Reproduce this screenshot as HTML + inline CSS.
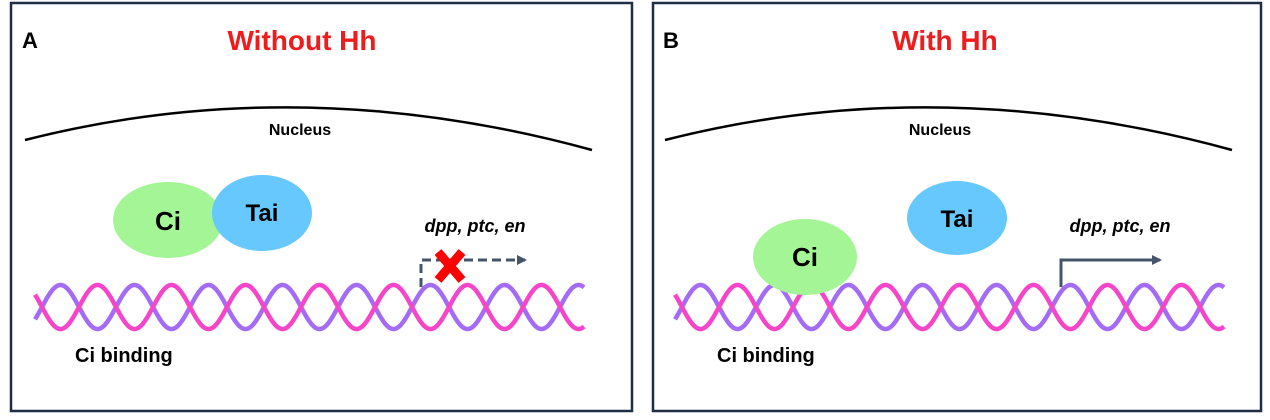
<!DOCTYPE html>
<html><head><style>body{margin:0;background:#fff}</style></head><body>
<svg width="1270" height="415" xmlns="http://www.w3.org/2000/svg" font-family="Liberation Sans, sans-serif">
<defs>
<marker id="ah" markerWidth="10" markerHeight="10" refX="8" refY="5" orient="auto" markerUnits="userSpaceOnUse"><path d="M0,0 L10,5 L0,10 z" fill="#44546a"/></marker>
</defs>
<g id="helix" fill="none" stroke-width="4.5"></g>
<g id="p1">
<rect x="11" y="3" width="621" height="408" fill="none" stroke="#1f2d45" stroke-width="2.5"/>
<text x="22" y="48" font-size="22" font-weight="bold">A</text>
<text x="302" y="50" font-size="28" font-weight="bold" fill="#ee1c1c" text-anchor="middle">Without Hh</text>
<path d="M25,140 Q300,70 592,150" fill="none" stroke="#000" stroke-width="2.5"/>
<text x="300" y="135" font-size="16" font-weight="bold" text-anchor="middle">Nucleus</text>
<ellipse cx="168" cy="220" rx="55" ry="38" fill="#a3f595"/>
<ellipse cx="262" cy="213" rx="50" ry="38" fill="#66c8fc"/>
<text x="168" y="230" font-size="26" font-weight="bold" text-anchor="middle">Ci</text>
<text x="262" y="221" font-size="24" font-weight="bold" text-anchor="middle">Tai</text>
<text x="475" y="232" font-size="18" font-weight="bold" font-style="italic" text-anchor="middle">dpp, ptc, en</text>
<path d="M421,287 V260 H525" fill="none" stroke="#44546a" stroke-width="3" stroke-dasharray="9,5" marker-end="url(#ah)"/>
<path d="M438,252 L462,280 M462,252 L438,280" stroke="#f00" stroke-width="9"/>
<text x="75" y="362" font-size="20" font-weight="bold">Ci binding</text>
</g>
<g id="p2">
<rect x="653" y="3" width="608" height="408" fill="none" stroke="#1f2d45" stroke-width="2.5"/>
<text x="663" y="48" font-size="22" font-weight="bold">B</text>
<text x="945" y="50" font-size="28" font-weight="bold" fill="#ee1c1c" text-anchor="middle">With Hh</text>
<path d="M665,140 Q940,70 1232,150" fill="none" stroke="#000" stroke-width="2.5"/>
<text x="940" y="135" font-size="16" font-weight="bold" text-anchor="middle">Nucleus</text>
<ellipse cx="805" cy="257" rx="52" ry="38" fill="#a3f595"/>
<ellipse cx="957" cy="218" rx="50" ry="37" fill="#66c8fc"/>
<text x="805" y="266" font-size="26" font-weight="bold" text-anchor="middle">Ci</text>
<text x="957" y="227" font-size="24" font-weight="bold" text-anchor="middle">Tai</text>
<text x="1120" y="232" font-size="18" font-weight="bold" font-style="italic" text-anchor="middle">dpp, ptc, en</text>
<path d="M1061,287 V260 H1160" fill="none" stroke="#44546a" stroke-width="3" marker-end="url(#ah)"/>
<text x="717" y="362" font-size="20" font-weight="bold">Ci binding</text>
</g>
<script>
(function(){
var g=document.getElementById('helix');
function helix(off){
 [[-1,'#a46cf5'],[1,'#f545c8']].forEach(function(a){
  var d='';for(var x=35;x<=584;x++){var y=307+22*a[0]*Math.sin(2*Math.PI*(x-42)/74);d+=(x==35?'M':'L')+(x+off)+','+y.toFixed(1);}
  var p=document.createElementNS('http://www.w3.org/2000/svg','path');p.setAttribute('d',d);p.setAttribute('stroke',a[1]);g.appendChild(p);
 });
}
helix(0);helix(640);
})();
</script>
</svg>
</body></html>
